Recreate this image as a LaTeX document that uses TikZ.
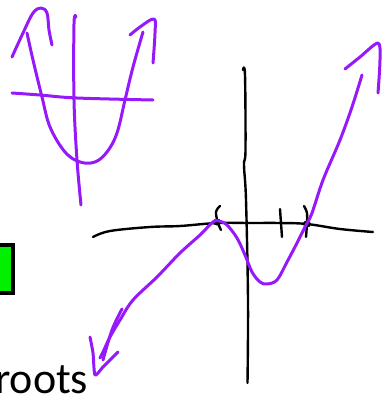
\documentclass[tikz,border=0pt]{standalone}
\usepackage{fontspec}
\setmainfont{Carlito}
\definecolor{pen}{RGB}{150,25,250}
\definecolor{boxgreen}{RGB}{0,240,0}
\begin{document}
\begin{tikzpicture}[x=1pt,y=-1pt,
  purpleink/.style={draw=pen,line width=3pt,line cap=round,line join=round},
  blackink/.style={draw=black,line width=2.4pt,line cap=round,line join=round}]
\useasboundingbox (0,0) rectangle (382,394);
\clip (0,0) rectangle (382,394);
% small parabola sketch
\draw[purpleink] plot[smooth,tension=0.6] coordinates {(12,93) (40,95) (77,98) (153,100)};
\draw[purpleink] plot[smooth,tension=0.6] coordinates {(76,17) (74,24) (74,100) (77,160) (81,205)};
\draw[purpleink] plot[smooth,tension=0.6] coordinates {(27,33) (33,60) (42,97) (50,127) (65,152) (80,162) (95,162) (107,152) (117,133) (125,100) (133,67) (143,32)};
\draw[purpleink] plot[smooth,tension=0.6] coordinates {(12,57) (23,33) (33,13) (41,8) (47,13) (49,30) (52,45)};
\draw[purpleink] plot[smooth,tension=0.6] coordinates {(130,35) (140,27) (154,19) (155,33) (153,63)};
% axes of main graph
\draw[blackink] plot[smooth,tension=0.6] coordinates {(93,237) (110,231) (150,227) (180,226) (217,223) (250,223) (280,223) (307,224) (340,229) (373,232)};
\draw[blackink] plot[smooth,tension=0.6] coordinates {(243,70) (245,75) (245.5,150) (244,165) (246,200) (248,300) (247.5,383)};
% tick marks
\draw[blackink] plot[smooth,tension=0.6] coordinates {(220,206) (216,212) (218,223) (221,230)};
\draw[blackink] (280,209) -- (282,237);
\draw[blackink] plot[smooth,tension=0.6] coordinates {(304,206) (307,213) (307,223) (306,237)};
\fill[black] (217,222) ellipse (4 and 3.5);
\fill[black] (307,224) ellipse (4 and 3.5);
% cubic-like curve
\draw[purpleink] plot[smooth,tension=0.55] coordinates {(100,358) (103,352) (110,337) (120,320) (133,300) (157,277) (180,253) (200,235) (213,222) (219,221) (227,225) (237,238) (245,255) (252,272) (260,282) (267,284) (277,280) (287,262) (297,243) (305,227) (312,213) (323,180) (340,140) (352,107) (362,75)};
\draw[purpleink] plot[smooth,tension=0.6] coordinates {(122,309) (112,330) (103,360)};
\draw[purpleink] plot[smooth,tension=0.4] coordinates {(90,337) (93,353) (95,375) (103,367) (118,352)};
\draw[purpleink] plot[smooth,tension=0.5] coordinates {(345,69) (360,57) (378,43) (380,60) (378,93)};
% green box
\draw[line width=4pt,fill=boxgreen] (-10,245) rectangle (12.5,293);
% text
\node[anchor=base west,inner sep=0pt,font=\fontsize{44}{48}\selectfont] (roots) at (-5,393) {roots};
\end{tikzpicture}
\end{document}
